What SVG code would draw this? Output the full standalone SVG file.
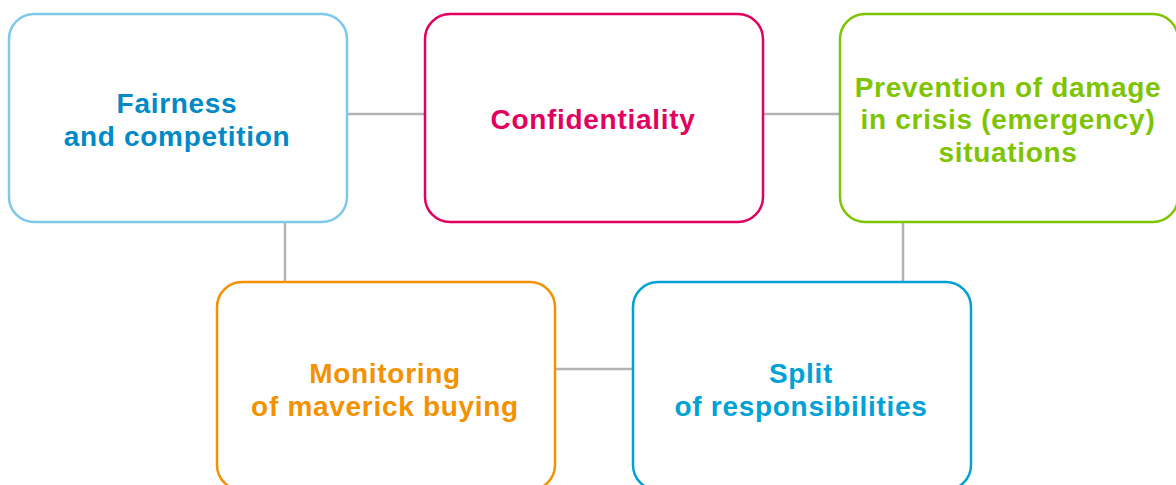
<svg xmlns="http://www.w3.org/2000/svg" width="1176" height="485" viewBox="0 0 1176 485">
  <style>
    .box { fill: #ffffff; stroke-width: 2.5; }
    .lbl { font-family: "Liberation Sans", Arial, sans-serif; font-weight: bold; font-size: 28px; letter-spacing: 0.7px; text-anchor: middle; }
    .link { stroke: #b3b3b3; stroke-width: 2.5; fill: none; }
  </style>

  <!-- connectors -->
  <g id="connectors">
    <line class="link" x1="347" y1="114" x2="425" y2="114"/>
    <line class="link" x1="763" y1="114" x2="840" y2="114"/>
    <line class="link" x1="285" y1="222" x2="285" y2="282"/>
    <line class="link" x1="903" y1="222" x2="903" y2="282"/>
    <line class="link" x1="555" y1="369" x2="633" y2="369"/>
  </g>

  <!-- top row -->
  <g id="fairness">
    <rect class="box" x="9" y="14" width="338" height="208" rx="25" stroke="#7ec9ea"/>
    <text class="lbl" fill="#0089c7"><tspan x="177" y="113">Fairness</tspan><tspan x="177" y="145.5">and competition</tspan></text>
  </g>

  <g id="confidentiality">
    <rect class="box" x="425" y="14" width="338" height="208" rx="25" stroke="#e2005f"/>
    <text class="lbl" fill="#e2005f" x="593" y="129">Confidentiality</text>
  </g>

  <g id="prevention">
    <rect class="box" x="840" y="14" width="338" height="208" rx="25" stroke="#7fc400"/>
    <text class="lbl" fill="#7fc400"><tspan x="1008" y="96.5">Prevention of damage</tspan><tspan x="1008" y="129">in crisis (emergency)</tspan><tspan x="1008" y="161.5">situations</tspan></text>
  </g>

  <!-- bottom row -->
  <g id="monitoring">
    <rect class="box" x="217" y="282" width="338" height="208" rx="25" stroke="#f39200"/>
    <text class="lbl" fill="#f39200"><tspan x="385" y="383">Monitoring</tspan><tspan x="385" y="415.5">of maverick buying</tspan></text>
  </g>

  <g id="split">
    <rect class="box" x="633" y="282" width="338" height="208" rx="25" stroke="#00a2d6"/>
    <text class="lbl" fill="#00a2d6"><tspan x="801" y="383">Split</tspan><tspan x="801" y="415.5">of responsibilities</tspan></text>
  </g>
</svg>
